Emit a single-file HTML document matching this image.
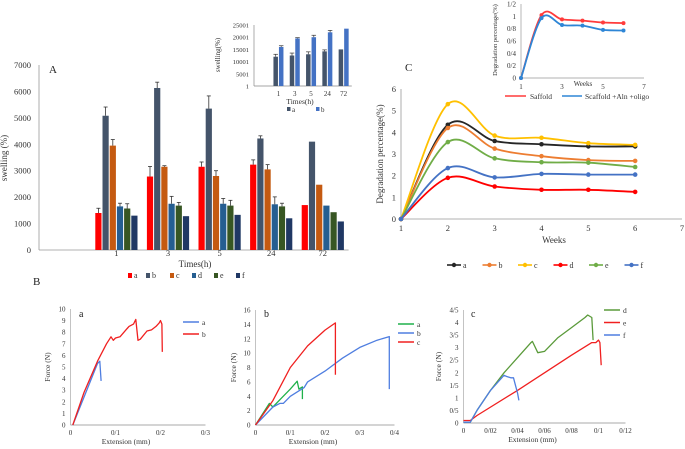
<!DOCTYPE html>
<html><head><meta charset="utf-8"><style>
html,body{margin:0;padding:0;background:#fff;}
svg{display:block;font-family:"Liberation Serif",serif;}
</style></head><body>
<svg id="fig" width="685" height="449" viewBox="0 0 685 449" xmlns="http://www.w3.org/2000/svg"></svg>
<script>
// ---------- Panel A data ----------
const aCats = ["", "1", "3", "5", "24", "72"];
const aSeries = ["a","b","c","d","e","f"];
const aColors = ["#ff0000","#44546a","#c55a11","#255e91","#375623","#203864"];
const aVals = [
  [null,1400,2780,3150,3230,1700],
  [null,5080,6130,5350,4220,4100],
  [null,3950,3150,2800,3050,2470],
  [null,1650,1750,1750,1730,1680],
  [null,1570,1680,1680,1650,1430],
  [null,1300,1280,1330,1200,1080]
];
const aErr = [
  [0,180,380,180,180,0],
  [0,330,220,480,100,0],
  [0,230,40,200,180,0],
  [0,120,280,200,280,0],
  [0,180,120,200,120,0],
  [0,0,0,0,0,0]
];
const aTicks = [0,1000,2000,3000,4000,5000,6000,7000];
// ---------- Inset A ----------
const iaCats = ["", "1", "3", "5", "24", "72"];
const iaA = [null,12000,12500,13000,14200,15000];
const iaB = [null,16000,19500,20000,22000,23500];
const iaErrA = [0,1000,1000,1000,600,0];
const iaErrB = [0,500,300,800,800,0];
const iaTicks = [1,5001,10001,15001,20001,25001];
// ---------- Panel C ----------
const cWeeks = [1,2,3,4,5,6];
const cNames = ["a","b","c","d","e","f"];
const cColors = ["#262626","#ed7d31","#ffc000","#ff0000","#70ad47","#4472c4"];
const cA = [0,4.35,3.6,3.45,3.35,3.35];
const cB = [0,4.2,3.25,2.9,2.72,2.68];
const cC = [0,5.3,3.85,3.75,3.5,3.42];
const cD = [0,1.9,1.5,1.35,1.35,1.25];
const cE = [0,3.55,2.8,2.62,2.6,2.4];
const cF = [0,2.35,1.92,2.08,2.05,2.05];
const cYTicks = [0,1,2,3,4,5,6];
const cXTicks = [1,2,3,4,5,6,7];
// ---------- Inset C ----------
const icRed = [0,1.02,0.95,0.93,0.9,0.89];
const icBlue = [0,0.97,0.86,0.85,0.78,0.77];
const icYTicks = [0,0.2,0.4,0.6,0.8,1,1.2];
const icXTicks = [1,3,5,7];
// ---------- Panel B-a ----------
const baAx = [0.005,0.06,0.065,0.068];
const baAy = [0,5.3,5.5,3.8];
const baBx = [0.005,0.03,0.06,0.08,0.09,0.095,0.1,0.11,0.13,0.14,0.145,0.15,0.155,0.17,0.18,0.19,0.197,0.2,0.203,0.204];
const baBy = [0,2.8,5.5,7,7.6,7.3,7.5,7.6,8.5,8.7,9.1,7.3,7.4,8.1,8.2,8.5,8.8,9.0,8.7,6.3];
// ---------- Panel B-b ----------
const bbAx = [0,0.04,0.05,0.07,0.1,0.12,0.125,0.135,0.135];
const bbAy = [0,3,2.5,3.5,5,6.1,5,5.3,3.6];
const bbBx = [0,0.05,0.07,0.08,0.1,0.14,0.15,0.2,0.25,0.3,0.35,0.385,0.385];
const bbBy = [0,2.5,3,3,4,5.2,6,7.5,9.3,10.8,11.8,12.3,5];
const bbCx = [0,0.05,0.1,0.15,0.2,0.23,0.23];
const bbCy = [0,3.4,8,11,13.2,14.2,7];
// ---------- Panel B-c ----------
const bcDx = [0,0.005,0.01,0.02,0.03,0.04,0.05,0.051,0.055,0.06,0.07,0.08,0.09,0.092,0.095,0.096];
const bcDy = [0.03,0.03,0.5,1.3,2,2.6,3.2,3.25,2.8,2.85,3.4,3.8,4.2,4.3,4.2,3.3];
const bcEx = [0,0.005,0.01,0.04,0.06,0.08,0.095,0.098,0.1,0.101,0.102];
const bcEy = [0.1,0.1,0.3,1.3,2,2.7,3.2,3.2,3.3,3.2,2.3];
const bcFx = [0,0.005,0.01,0.02,0.03,0.032,0.035,0.037,0.038,0.04,0.041];
const bcFy = [0.03,0.03,0.5,1.3,1.9,1.85,1.8,1.8,1.6,1.2,0.9];

const svg = document.getElementById('fig');
const NS = "http://www.w3.org/2000/svg";
function mk(tag, attrs, parent, txt){
  const e = document.createElementNS(NS, tag);
  for (const k in attrs) e.setAttribute(k, attrs[k]);
  if (txt !== undefined) e.textContent = txt;
  (parent || svg).appendChild(e);
  return e;
}
function lin(d0,d1,p0,p1){ return v => p0 + (v-d0)*(p1-p0)/(d1-d0); }
function fmt(v){ return String(v).replace('.', '/'); }
function text(x,y,s,size,anchor,name,parent,extra){
  const t = mk('text',Object.assign({x:x,y:y,'font-size':size,'text-anchor':anchor||'middle',fill:'#333'},extra||{}),parent,s);
  
  
  return t;
}
function line(x1,y1,x2,y2,stroke,w,name,parent){
  const l = mk('line',{x1:x1,y1:y1,x2:x2,y2:y2,stroke:stroke,'stroke-width':w},parent);
  
  
  return l;
}
function poly(xs,ys,sx,sy,color,name,parent,w){
  const pts = xs.map((x,i)=>sx(x).toFixed(1)+','+sy(ys[i]).toFixed(1)).join(' ');
  const p = mk('polyline',{points:pts,fill:'none',stroke:color,'stroke-width':w||1.3,'stroke-linejoin':'round'},parent);
  
  
  return p;
}
function smooth(xs,ys,sx,sy){
  const P = xs.map((x,i)=>[sx(x),sy(ys[i])]);
  let d = 'M'+P[0][0]+','+P[0][1];
  for (let i=0;i<P.length-1;i++){
    const p0=P[Math.max(0,i-1)],p1=P[i],p2=P[i+1],p3=P[Math.min(P.length-1,i+2)];
    const c1=[p1[0]+(p2[0]-p0[0])/6,p1[1]+(p2[1]-p0[1])/6];
    const c2=[p2[0]-(p3[0]-p1[0])/6,p2[1]-(p3[1]-p1[1])/6];
    d+=' C'+c1[0].toFixed(1)+','+c1[1].toFixed(1)+' '+c2[0].toFixed(1)+','+c2[1].toFixed(1)+' '+p2[0].toFixed(1)+','+p2[1].toFixed(1);
  }
  return d;
}

// ================= Panel A =================
(function(){
  const g = mk('g',{});
  
  
  const x0=39, bw=51.6, y=lin(0,7000,250,65);
  aTicks.forEach(t=>text(31,y(t)+3,t,8.5,'end','y-tick-label',g));
  line(x0,65,x0,250,'#999',0.8,'y-axis',g);
  line(x0,250,x0+bw*aCats.length,250,'#999',0.8,'x-axis',g);
  aCats.forEach((c,i)=>{ if(c) text(x0+bw*(i+0.5),256,c,8.5,'middle','x-tick-label',g); });
  text(195,267,'Times(h)',9,'middle','x-axis-title',g);
  text(7,158,'swelling (%)',9,'middle','y-axis-title',g,{transform:'rotate(-90 7 158)'});
  text(49,73,'A',11,'start','panel-label-a',g,{fill:'#222'});
  const barW=6.2;
  aSeries.forEach((s,si)=>{
    aCats.forEach((c,ci)=>{
      const v=aVals[si][ci]; if(v==null) return;
      const cx=x0+bw*(ci+0.5)-3*barW-2.5+si*(barW+1);
      const r=mk('rect',{x:cx,y:y(v),width:barW,height:250-y(v),fill:aColors[si]},g);
      
      
      const e=aErr[si][ci];
      if(e>0){
        line(cx+barW/2,y(v),cx+barW/2,y(v+e),'#333',0.8,'error-bar',g);
        line(cx+barW/2-2,y(v+e),cx+barW/2+2,y(v+e),'#333',0.8,'error-cap',g);
      }
    });
  });
  const lx=[128,146,170,192,214,236];
  aSeries.forEach((s,i)=>{
    const r=mk('rect',{x:lx[i],y:273,width:4,height:5,fill:aColors[i]},g);
    
    
    text(lx[i]+6,278,s,8,'start','legend-entry-'+s,g);
  });
  text(33,285,'B',11,'start','panel-label-b',g,{fill:'#222'});
})();

// ================= Inset A =================
(function(){
  const g = mk('g',{});
  
  
  const x0=254,bw=16.3,y=lin(1,25001,86,25);
  iaTicks.forEach(t=>text(249,y(t)+2.5,t,6.5,'end','inset-y-tick',g));
  line(x0,25,x0,86,'#888',0.7,'inset-y-axis',g);
  line(x0,86,x0+bw*iaCats.length,86,'#888',0.7,'inset-x-axis',g);
  iaCats.forEach((c,i)=>{ if(c) text(x0+bw*(i+0.5),96,c,7,'middle','inset-x-tick',g); });
  text(300,104,'Times(h)',7.5,'middle','inset-x-title',g);
  text(220,55,'swelling(%)',7,'middle','inset-y-title',g,{transform:'rotate(-90 220 55)'});
  const w=4.5;
  [[iaA,iaErrA,'#44546a','a'],[iaB,iaErrB,'#4472c4','b']].forEach((sr,si)=>{
    iaCats.forEach((c,ci)=>{
      const v=sr[0][ci]; if(v==null) return;
      const cx=x0+bw*(ci+0.5)-w+si*w+(si?0.5:-0.5);
      const r=mk('rect',{x:cx,y:y(v),width:w,height:86-y(v),fill:sr[2]},g);
      
      
      const e=sr[1][ci];
      if(e>0){ line(cx+w/2,y(v),cx+w/2,y(v+e),'#333',0.7,'inset-error-bar',g); line(cx,y(v+e),cx+w,y(v+e),'#333',0.7,'inset-error-cap',g); }
    });
  });
  [[287,'#44546a','a'],[316,'#4472c4','b']].forEach(l=>{
    const r=mk('rect',{x:l[0],y:107,width:3.5,height:4,fill:l[1]},g);
    
    
    text(l[0]+5,112,l[2],7,'start','inset-legend-entry-'+l[2],g);
  });
})();

// ================= Panel C =================
(function(){
  const g = mk('g',{});
  
  
  const x=lin(1,7,401,682), y=lin(0,6,219,89);
  cYTicks.forEach(t=>text(396,y(t)+3,t,8.5,'end','y-tick-label',g));
  cXTicks.forEach(t=>text(x(t),231,t,8.5,'middle','x-tick-label',g));
  line(401,89,401,219,'#999',0.8,'y-axis',g);
  line(401,219,682,219,'#999',0.8,'x-axis',g);
  text(554,243,'Weeks',9,'middle','x-axis-title',g);
  text(383,154,'Degradation percentage(%)',9,'middle','y-axis-title',g,{transform:'rotate(-90 383 154)'});
  text(405,71,'C',11,'start','panel-label-c',g,{fill:'#222'});
  [cA,cB,cC,cD,cE,cF].forEach((sr,si)=>{
    const p=mk('path',{d:smooth(cWeeks,sr,x,y),fill:'none',stroke:cColors[si],'stroke-width':1.8},g);
    
    
    sr.forEach((v,i)=>{
      const c=mk('circle',{cx:x(cWeeks[i]),cy:y(v),r:2.3,fill:cColors[si]},g);
      
      
    });
  });
  cNames.forEach((n,i)=>{
    const lx=447+i*35.5;
    line(lx,265,lx+14,265,cColors[i],1.6,'legend-line-'+n,g);
    const c=mk('circle',{cx:lx+7,cy:265,r:2.2,fill:cColors[i]},g);
    
    
    text(lx+16,268,n,8,'start','legend-entry-'+n,g);
  });
})();

// ================= Inset C =================
(function(){
  const g = mk('g',{});
  
  
  const x=lin(1,7,521,644), y=lin(0,1.2,78,4);
  icYTicks.forEach(t=>text(516,y(t)+2.5,fmt(+t.toFixed(1)),7,'end','inset-y-tick',g));
  icXTicks.forEach(t=>text(x(t),89,t,7,'middle','inset-x-tick',g));
  line(521,4,521,78,'#999',0.7,'inset-y-axis',g);
  line(521,78,644,78,'#999',0.7,'inset-x-axis',g);
  text(583,86,'Weeks',7,'middle','inset-x-title',g);
  text(497,40,'Degradation percentage(%)',6.5,'middle','inset-y-title',g,{transform:'rotate(-90 497 40)'});
  [[icRed,'#ff3b3b','scaffold'],[icBlue,'#2e86d6','scaffold-aln-oligo']].forEach(sr=>{
    const p=mk('path',{d:smooth(cWeeks,sr[0],x,y),fill:'none',stroke:sr[1],'stroke-width':1.8},g);
    
    
    sr[0].forEach((v,i)=>{
      const c=mk('circle',{cx:x(cWeeks[i]),cy:y(v),r:2,fill:sr[1]},g);
      
      
    });
  });
  line(505,96,526,96,'#ff3b3b',1.6,'inset-legend-line-scaffold',g);
  text(530,99,'Saffold',7.5,'start','inset-legend-entry-scaffold',g);
  line(562,96,582,96,'#2e86d6',1.6,'inset-legend-line-aln',g);
  text(585,99,'Scaffold +Aln +oligo',7.5,'start','inset-legend-entry-aln',g);
})();

// ================= Force panels =================
function forcePanel(o){
  const g = mk('g',{});
  
  
  const x=lin(o.xd[0],o.xd[1],o.xp[0],o.xp[1]), y=lin(o.yd[0],o.yd[1],o.yp[0],o.yp[1]);
  o.yticks.forEach(t=>text(o.xp[0]-5,y(t)+2.5,fmt(t),7,'end','y-tick-label',g));
  o.xticks.forEach(t=>text(x(t),o.yp[0]+10,fmt(t),7,'middle','x-tick-label',g));
  line(o.xp[0],o.yp[1],o.xp[0],o.yp[0],'#aaa',0.7,'y-axis',g);
  line(o.xp[0],o.yp[0],x(o.xticks[o.xticks.length-1]),o.yp[0],'#aaa',0.9,'x-axis',g);
  text((o.xp[0]+x(o.xticks[o.xticks.length-1]))/2-12,o.yp[0]+19,'Extension (mm)',7.5,'middle','x-axis-title',g);
  const ty=(o.yp[0]+o.yp[1])/2;
  text(o.tx,ty,'Force (N)',7.5,'middle','y-axis-title',g,{transform:'rotate(-90 '+o.tx+' '+ty+')'});
  text(o.lx,o.ly,o.letter,10,'start','panel-letter',g,{fill:'#222'});
  o.series.forEach(s=>poly(s.x,s.y,x,y,s.c,'series-'+s.n,g));
  o.series.forEach((s,i)=>{
    const ly=o.legY+i*o.legDy;
    line(o.legX,ly,o.legX+16,ly,s.c,1.5,'legend-line-'+s.n,g);
    text(o.legX+19,ly+3,s.n,7.5,'start','legend-entry-'+s.n,g);
  });
}
forcePanel({name:'force-chart-a',letter:'a',lx:79,ly:317,xd:[0,0.3],xp:[70.5,205.5],yd:[0,10],yp:[425,309],
  xticks:[0,0.1,0.2,0.3],yticks:[0,1,2,3,4,5,6,7,8,9,10],tx:50,legX:183,legY:322,legDy:12,
  series:[{n:'a',c:'#4f7ee0',x:baAx,y:baAy},{n:'b',c:'#f02020',x:baBx,y:baBy}]});
forcePanel({name:'force-chart-b',letter:'b',lx:264,ly:317,xd:[0,0.4],xp:[255.5,394.5],yd:[0,16],yp:[425,310],
  xticks:[0,0.1,0.2,0.3,0.4],yticks:[0,2,4,6,8,10,12,14,16],tx:236,legX:398,legY:324,legDy:9,
  series:[{n:'a',c:'#1fb14a',x:bbAx,y:bbAy},{n:'b',c:'#4f7ee0',x:bbBx,y:bbBy},{n:'c',c:'#f02020',x:bbCx,y:bbCy}]});
forcePanel({name:'force-chart-c',letter:'c',lx:471,ly:317,xd:[0,0.12],xp:[463.5,625.5],yd:[0,4.5],yp:[423,310],
  xticks:[0,0.02,0.04,0.06,0.08,0.1,0.12],yticks:[0,0.5,1,1.5,2,2.5,3,3.5,4,4.5],tx:441,legX:604,legY:310,legDy:12.5,
  series:[{n:'d',c:'#5a9a3a',x:bcDx,y:bcDy},{n:'e',c:'#f02020',x:bcEx,y:bcEy},{n:'f',c:'#4f7ee0',x:bcFx,y:bcFy}]});
</script>
</body></html>
